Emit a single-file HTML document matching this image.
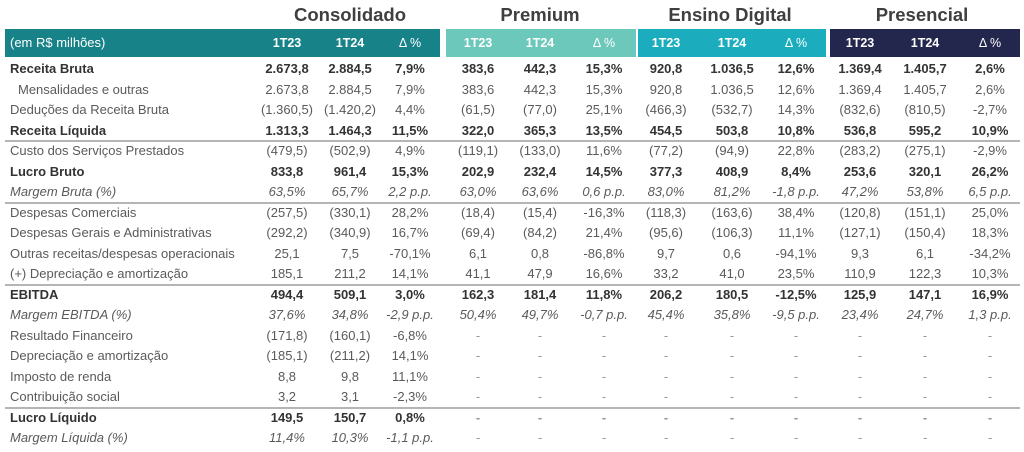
<!DOCTYPE html>
<html><head><meta charset="utf-8">
<style>
body{margin:0;width:1024px;height:452px;background:#fff;overflow:hidden;font-family:"Liberation Sans",sans-serif;}
#root{position:relative;width:1024px;height:452px;}
.t{position:absolute;white-space:nowrap;font-size:13px;line-height:20px;}
.c{transform:translateX(-50%);}
.title{position:absolute;top:4px;font-size:18.5px;font-weight:bold;color:#3f3f3f;transform:translateX(-50%);white-space:nowrap;}
.band{position:absolute;top:29px;height:28px;}
.hl{position:absolute;color:#fff;font-size:12.5px;font-weight:bold;line-height:28px;top:29px;transform:translateX(-50%);}
.sep{position:absolute;left:5px;width:1015px;height:2px;background:#b5b5b5;}
</style></head>
<body><div id="root">
<div class="title" style="left:350px">Consolidado</div>
<div class="title" style="left:540px">Premium</div>
<div class="title" style="left:730px">Ensino Digital</div>
<div class="title" style="left:922px">Presencial</div>
<div class="band" style="left:5px;width:435px;background:#178389"></div>
<div class="band" style="left:446px;width:190px;background:#6cc8bb"></div>
<div class="band" style="left:638px;width:188px;background:#1badbe"></div>
<div class="band" style="left:830px;width:190px;background:#23264d"></div>
<div class="t" style="left:10px;top:33px;color:#fff;font-size:13px">(em R$ milhões)</div>
</div>
<script>
const colX=[287,350,410,478,540,604,666,732,796,860,925,990];
const headers=["1T23","1T24","Δ %"];
const labels=["Receita Bruta","Mensalidades e outras","Deduções da Receita Bruta","Receita Líquida","Custo dos Serviços Prestados","Lucro Bruto","Margem Bruta (%)","Despesas Comerciais","Despesas Gerais e Administrativas","Outras receitas/despesas operacionais","(+) Depreciação e amortização","EBITDA","Margem EBITDA (%)","Resultado Financeiro","Depreciação e amortização","Imposto de renda","Contribuição social","Lucro Líquido","Margem Líquida (%)"];
const styles=["b","i0","n","b","n","b","it","n","n","n","n","b","it","n","n","n","n","b","it"];
const D="-";
const values=[
["2.673,8","2.884,5","7,9%","383,6","442,3","15,3%","920,8","1.036,5","12,6%","1.369,4","1.405,7","2,6%"],
["2.673,8","2.884,5","7,9%","383,6","442,3","15,3%","920,8","1.036,5","12,6%","1.369,4","1.405,7","2,6%"],
["(1.360,5)","(1.420,2)","4,4%","(61,5)","(77,0)","25,1%","(466,3)","(532,7)","14,3%","(832,6)","(810,5)","-2,7%"],
["1.313,3","1.464,3","11,5%","322,0","365,3","13,5%","454,5","503,8","10,8%","536,8","595,2","10,9%"],
["(479,5)","(502,9)","4,9%","(119,1)","(133,0)","11,6%","(77,2)","(94,9)","22,8%","(283,2)","(275,1)","-2,9%"],
["833,8","961,4","15,3%","202,9","232,4","14,5%","377,3","408,9","8,4%","253,6","320,1","26,2%"],
["63,5%","65,7%","2,2 p.p.","63,0%","63,6%","0,6 p.p.","83,0%","81,2%","-1,8 p.p.","47,2%","53,8%","6,5 p.p."],
["(257,5)","(330,1)","28,2%","(18,4)","(15,4)","-16,3%","(118,3)","(163,6)","38,4%","(120,8)","(151,1)","25,0%"],
["(292,2)","(340,9)","16,7%","(69,4)","(84,2)","21,4%","(95,6)","(106,3)","11,1%","(127,1)","(150,4)","18,3%"],
["25,1","7,5","-70,1%","6,1","0,8","-86,8%","9,7","0,6","-94,1%","9,3","6,1","-34,2%"],
["185,1","211,2","14,1%","41,1","47,9","16,6%","33,2","41,0","23,5%","110,9","122,3","10,3%"],
["494,4","509,1","3,0%","162,3","181,4","11,8%","206,2","180,5","-12,5%","125,9","147,1","16,9%"],
["37,6%","34,8%","-2,9 p.p.","50,4%","49,7%","-0,7 p.p.","45,4%","35,8%","-9,5 p.p.","23,4%","24,7%","1,3 p.p."],
["(171,8)","(160,1)","-6,8%",D,D,D,D,D,D,D,D,D],
["(185,1)","(211,2)","14,1%",D,D,D,D,D,D,D,D,D],
["8,8","9,8","11,1%",D,D,D,D,D,D,D,D,D],
["3,2","3,1","-2,3%",D,D,D,D,D,D,D,D,D],
["149,5","150,7","0,8%",D,D,D,D,D,D,D,D,D],
["11,4%","10,3%","-1,1 p.p.",D,D,D,D,D,D,D,D,D]
];
const sepAfter=[3,6,10,16];
const root=document.getElementById('root');
const rowTop=i=>59+i*20.5;
colX.forEach((x,j)=>{
  const h=document.createElement('div');
  h.className='hl';
  h.style.left=x+'px';
  h.style.fontWeight=j%3==2?'normal':'bold';
  h.textContent=headers[j%3];
  
  
  root.appendChild(h);
});
labels.forEach((lab,i)=>{
  const s=styles[i];
  const color=s=='b'?'#333':'#5a5a5a';
  const l=document.createElement('div');
  l.className='t';
  l.style.left=(s=='i0'?18:10)+'px';
  l.style.top=rowTop(i)+'px';
  l.style.color=color;
  if(s=='b')l.style.fontWeight='bold';
  if(s=='it')l.style.fontStyle='italic';
  l.textContent=lab;
  
  
  root.appendChild(l);
  values[i].forEach((v,j)=>{
    const c=document.createElement('div');
    c.className='t c';
    c.style.left=colX[j]+'px';
    c.style.top=rowTop(i)+'px';
    c.style.color=v==D?'#999':color;
    if(s=='b')c.style.fontWeight='bold';
    if(s=='it')c.style.fontStyle='italic';
    c.textContent=v;
    
    
    root.appendChild(c);
  });
});
sepAfter.forEach(i=>{
  const s=document.createElement('div');
  s.className='sep';
  s.style.top=(rowTop(i+1)-1)+'px';
  
  
  root.appendChild(s);
});
</script>
</body></html>
